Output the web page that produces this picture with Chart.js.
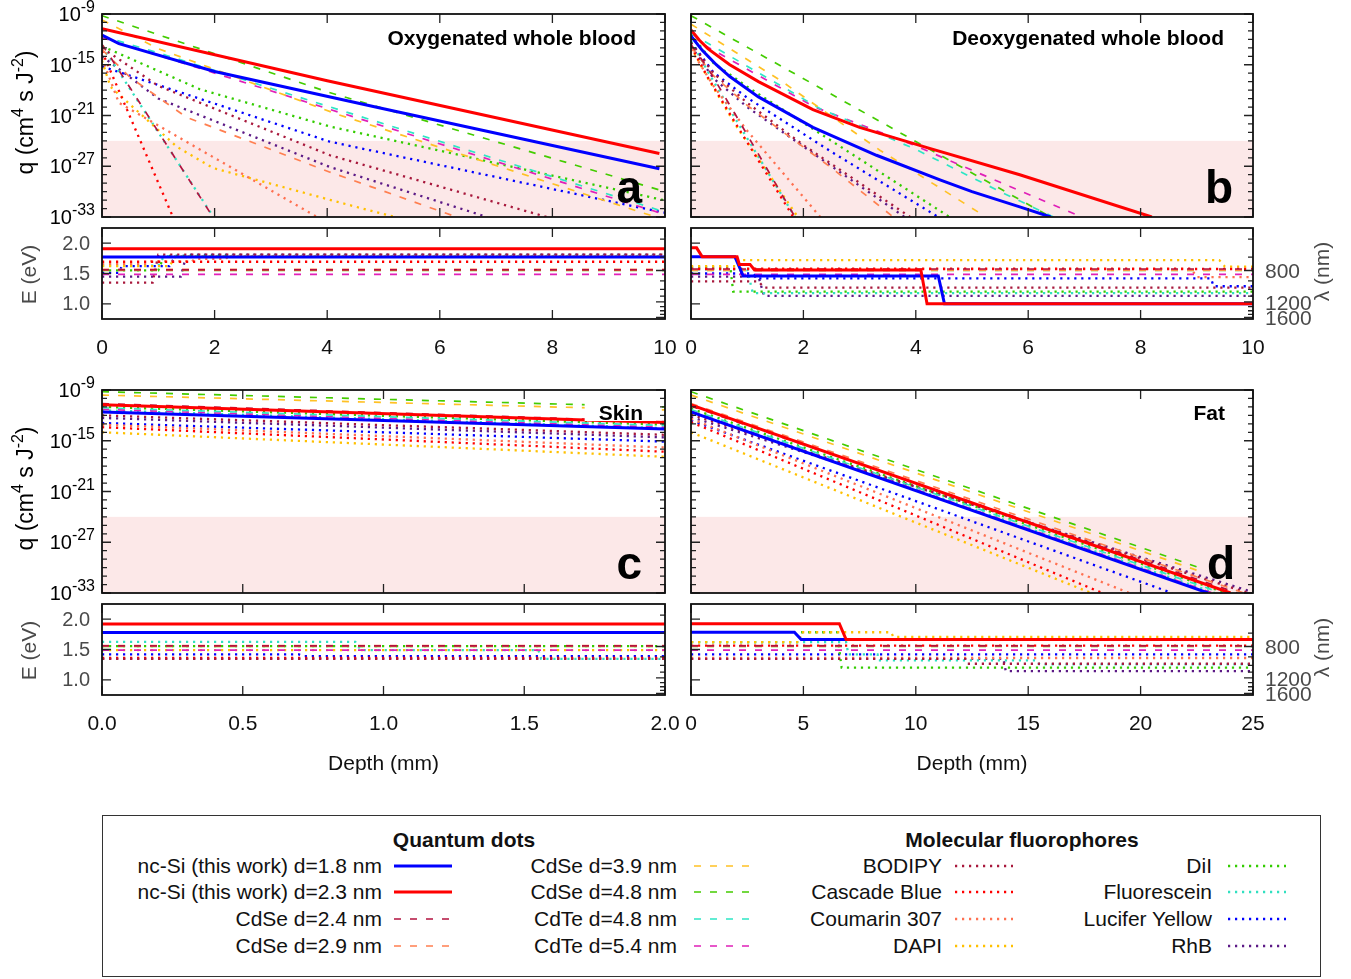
<!DOCTYPE html>
<html>
<head>
<meta charset="utf-8">
<title>Penetration depth of nc-Si, QD and dye emission</title>
<script src="https://cdn.jsdelivr.net/npm/chart.js@4.4.0/dist/chart.umd.min.js"></script>
<style>
    html, body { margin: 0; padding: 0; background: #fff; }
    body { position: relative; width: 1351px; height: 979px; overflow: hidden;
           font-family: "Liberation Sans", Arial, sans-serif; color: #111; }
    canvas { position: absolute; }
    #legendBox { position: absolute; left: 102px; top: 815px; width: 1219px; height: 162px;
                 border: 1.5px solid #333; box-sizing: border-box; }
    .lg-text { position: absolute; width: 400px; text-align: right; font-size: 21px; line-height: 24px; white-space: nowrap; }
    .lg-head { position: absolute; width: 400px; text-align: center; font-size: 21px; font-weight: bold; line-height: 24px; }
    .lg-line { position: absolute; }
</style>
</head>
<body>
<div id="legendBox"></div>

<script>
// Series names (legend order)
const seriesNames = [
    'nc-Si (this work) d=1.8 nm', 'nc-Si (this work) d=2.3 nm',
    'CdSe d=2.4 nm', 'CdSe d=2.9 nm', 'CdSe d=3.9 nm', 'CdSe d=4.8 nm',
    'CdTe d=4.8 nm', 'CdTe d=5.4 nm',
    'BODIPY', 'Cascade Blue', 'Coumarin 307', 'DAPI',
    'DiI', 'Fluorescein', 'Lucifer Yellow', 'RhB'
];

// q(depth) as [depth mm, log10 q], one list per series
const qOxygenated = [
    [[0, -11.5], [0.3, -12.5], [2, -15.8], [5, -20.2], [9.9, -27.3]],
    [[0, -10.75], [4, -16.9], [9.9, -25.5]],
    [[0, -12.6], [0.15, -14.1], [1.97, -33.0]],
    [[0, -13.2], [0.5, -16.5], [1.5, -21.2], [4.05, -27.7], [6.3, -33.0]],
    [[0, -9.7], [1, -13.1], [4.2, -20.9], [9.6, -32.5], [9.85, -33.0]],
    [[0, -9.2], [4, -18.2], [9.9, -29.8]],
    [[0, -11.6], [1.15, -13.9], [4.2, -20.3], [9.9, -32.2]],
    [[0, -11.8], [1.15, -14.2], [4.2, -20.6], [9.9, -32.5]],
    [[0, -13.0], [1, -17.5], [4.05, -25.7], [7.9, -33.0]],
    [[0, -13.4], [1.26, -33.0]],
    [[0, -14.2], [0.3, -19.5], [3.82, -33.0]],
    [[0, -14.5], [0.15, -17.6], [1.33, -24.7], [1.97, -27.2], [4.23, -31.3], [5.2, -33.0]],
    [[0, -12.8], [1.74, -17.9], [4.05, -22.3], [9.97, -31.0]],
    [[0, -12.9], [0.15, -14.3], [1.98, -33.0]],
    [[0, -15.2], [4.05, -24.1], [9.56, -31.9], [10, -32.5]],
    [[0, -14.0], [1, -19.0], [4.05, -27.1], [6.84, -33.0]]
];

const qDeoxygenated = [
    [[0, -11.6], [0.2, -13.3], [0.45, -15.0], [0.69, -16.4], [1.2, -18.8], [2.17, -22.4], [3.3, -25.7], [4.43, -28.6], [5.0, -30.0], [5.85, -31.8], [6.4, -33.0]],
    [[0, -10.9], [0.15, -12.1], [0.3, -13.1], [0.69, -15.0], [1.2, -17.0], [2.17, -20.3], [3.0, -22.4], [3.95, -24.3], [4.2, -24.8], [5.85, -28.0], [8.2, -33.0]],
    [[0, -12.6], [0.3, -15.4], [0.8, -21.0], [1.85, -33.0]],
    [[0, -12.9], [0.4, -16.3], [1.0, -19.8], [2.5, -27.2], [3.6, -33.0]],
    [[0, -10.2], [1.58, -16.8], [3.36, -25.1], [5.25, -33.0]],
    [[0, -9.2], [6.4, -33.0]],
    [[0, -11.3], [2.3, -20.2], [4.0, -25.0], [5.5, -30.0], [6.45, -33.0]],
    [[0, -11.8], [2.2, -20.0], [4.0, -24.6], [5.5, -28.9], [6.95, -33.0]],
    [[0, -12.4], [0.4, -16.0], [1.0, -19.5], [2.0, -24.5], [3.9, -33.0]],
    [[0, -12.8], [0.3, -16.5], [0.8, -22.0], [1.82, -33.0]],
    [[0, -13.2], [0.4, -17.5], [1.0, -22.8], [2.3, -33.0]],
    [[0, -12.9], [0.3, -16.6], [0.8, -22.2], [1.9, -33.0]],
    [[0, -11.4], [0.4, -14.8], [1.0, -17.6], [2.5, -24.0], [4.6, -33.0]],
    [[0, -12.2], [0.3, -15.8], [0.8, -21.5], [1.85, -33.0]],
    [[0, -12.3], [0.4, -15.9], [1.0, -18.9], [2.5, -25.3], [4.4, -33.0]],
    [[0, -12.8], [0.4, -16.6], [1.0, -20.0], [2.2, -25.6], [3.8, -33.0]]
];

const qSkin = [
    [[0, -11.6], [2, -13.6]],
    [[0, -10.75], [2, -12.85]],
    [[0, -10.6], [2, -12.75]],
    [[0, -10.7], [2, -12.85]],
    [[0, -9.6], [2, -11.35]],
    [[0, -9.2], [2, -11.0]],
    [[0, -11.1], [2, -13.2]],
    [[0, -11.3], [2, -13.4]],
    [[0, -12.0], [2, -14.3]],
    [[0, -13.4], [2, -16.3]],
    [[0, -13.1], [2, -15.8]],
    [[0, -14.0], [2, -16.9]],
    [[0, -11.0], [2, -13.1]],
    [[0, -11.4], [2, -13.5]],
    [[0, -12.9], [2, -15.1]],
    [[0, -12.3], [2, -14.6]]
];

const qFat = [
    [[0, -11.6], [23.0, -33.0]],
    [[0, -10.77], [24.0, -33.0]],
    [[0, -10.9], [24.3, -33.0]],
    [[0, -10.6], [24.6, -33.0]],
    [[0, -9.6], [22.6, -30.4]],
    [[0, -9.2], [22.6, -30.0]],
    [[0, -11.3], [23.6, -33.0]],
    [[0, -11.5], [23.2, -33.0]],
    [[0, -11.9], [24.8, -33.0]],
    [[0, -12.8], [18.3, -33.0]],
    [[0, -12.4], [19.5, -33.0]],
    [[0, -14.0], [17.8, -33.0]],
    [[0, -11.2], [23.8, -33.0]],
    [[0, -11.5], [23.3, -33.0]],
    [[0, -12.6], [21.4, -33.0]],
    [[0, -12.2], [25.0, -32.9]]
];

// Dominant emission energy E(depth) as [depth mm, eV]
const eOxygenated = [
    [[0, 1.77], [10, 1.77]],
    [[0, 1.91], [10, 1.91]],
    [[0, 1.56], [10, 1.56]],
    [[0, 1.57], [10, 1.57]],
    [[0, 1.55], [10, 1.55]],
    [[0, 1.555], [10, 1.555]],
    [[0, 1.55], [10, 1.55]],
    [[0, 1.486], [10, 1.486]],
    [[0, 1.35], [0.9, 1.35], [1.0, 1.81], [10, 1.81]],
    [[0, 1.694], [10, 1.694]],
    [[0, 1.66], [0.8, 1.66], [0.85, 1.70], [1.6, 1.70], [1.65, 1.74], [2.2, 1.74], [2.25, 1.79], [10, 1.79]],
    [[0, 1.62], [1.2, 1.62], [1.3, 1.78], [10, 1.78]],
    [[0, 1.55], [1.0, 1.55], [1.1, 1.79], [10, 1.79]],
    [[0, 1.63], [1.0, 1.63], [1.1, 1.78], [10, 1.78]],
    [[0, 1.51], [0.3, 1.51], [0.35, 1.62], [1.2, 1.62], [1.3, 1.79], [10, 1.79]],
    [[0, 1.45], [1.4, 1.45], [1.5, 1.81], [10, 1.81]]
];

const eDeoxygenated = [
    [[0, 1.776], [0.78, 1.776], [0.93, 1.459], [4.4, 1.459], [4.51, 1.0], [10, 1.0]],
    [[0, 1.923], [0.1, 1.923], [0.2, 1.776], [0.82, 1.776], [0.86, 1.65], [1.05, 1.65], [1.13, 1.557], [4.09, 1.557], [4.2, 1.0], [10, 1.0]],
    [[0, 1.574], [10, 1.574]],
    [[0, 1.56], [10, 1.56]],
    [[0, 1.55], [10, 1.55]],
    [[0, 1.557], [10, 1.557]],
    [[0, 1.55], [10, 1.55]],
    [[0, 1.486], [10, 1.486]],
    [[0, 1.37], [1.2, 1.37], [1.3, 1.268], [10, 1.268]],
    [[0, 1.574], [10, 1.574]],
    [[0, 1.58], [8.9, 1.58], [9.0, 1.44], [10, 1.44]],
    [[0, 1.62], [0.8, 1.62], [0.85, 1.721], [9.4, 1.721], [9.5, 1.612], [10, 1.612]],
    [[0, 1.60], [0.7, 1.60], [0.75, 1.202], [10, 1.202]],
    [[0, 1.57], [1.0, 1.57], [1.1, 1.175], [10, 1.175]],
    [[0, 1.50], [1.1, 1.50], [1.2, 1.421], [9.25, 1.421], [9.3, 1.29], [10, 1.29]],
    [[0, 1.45], [1.2, 1.45], [1.3, 1.131], [10, 1.131]]
];

const eSkin = [
    [[0, 1.779], [2, 1.779]],
    [[0, 1.921], [2, 1.921]],
    [[0, 1.56], [2, 1.56]],
    [[0, 1.565], [2, 1.565]],
    [[0, 1.55], [2, 1.55]],
    [[0, 1.555], [2, 1.555]],
    [[0, 1.55], [2, 1.55]],
    [[0, 1.49], [2, 1.49]],
    [[0, 1.347], [2, 1.347]],
    [[0, 1.36], [2, 1.36]],
    [[0, 1.355], [2, 1.355]],
    [[0, 1.49], [2, 1.49]],
    [[0, 1.555], [2, 1.555]],
    [[0, 1.626], [0.9, 1.626], [0.92, 1.49], [1.55, 1.49], [1.56, 1.347], [2, 1.347]],
    [[0, 1.418], [0.7, 1.418], [0.72, 1.39], [2, 1.39]],
    [[0, 1.347], [2, 1.347]]
];

const eFat = [
    [[0, 1.784], [4.6, 1.784], [4.9, 1.664], [25, 1.664]],
    [[0, 1.926], [6.6, 1.926], [6.9, 1.664], [25, 1.664]],
    [[0, 1.56], [25, 1.56]],
    [[0, 1.565], [25, 1.565]],
    [[0, 1.55], [25, 1.55]],
    [[0, 1.555], [25, 1.555]],
    [[0, 1.55], [25, 1.55]],
    [[0, 1.49], [25, 1.49]],
    [[0, 1.347], [12.2, 1.347], [12.3, 1.265], [25, 1.265]],
    [[0, 1.565], [25, 1.565]],
    [[0, 1.36], [25, 1.36]],
    [[0, 1.62], [4.8, 1.62], [4.9, 1.784], [8.9, 1.784], [9.0, 1.708], [25, 1.708]],
    [[0, 1.62], [4.8, 1.62], [4.85, 1.784], [6.5, 1.784], [6.7, 1.20], [25, 1.20]],
    [[0, 1.62], [6.9, 1.62], [7.0, 1.418], [8.3, 1.418], [8.35, 1.32], [15.4, 1.32], [15.5, 1.254], [25, 1.254]],
    [[0, 1.418], [25, 1.418]],
    [[0, 1.347], [13.9, 1.347], [14.0, 1.145], [25, 1.145]]
];

// Axis values
const qExponents = [-9, -15, -21, -27, -33];
const eTickValues = [1.0, 1.5, 2.0];
const lambdaTicks = [600, 700, 800, 900, 1000, 1100, 1200, 1300, 1400, 1500, 1600];
const lambdaLabels = [800, 1200, 1600];
const shadedBelow = 1e-24;
const HC = 1239.84; // eV*nm

// Line styles
const lineColors = [
    '#0000ff', '#ff0000',
    '#b3123f', '#ff7f50', '#ffc125', '#44cc00', '#2ee6c5', '#e020b8',
    '#a8183c', '#ff0000', '#ff7050', '#ffc000', '#33cc00', '#30e0c0', '#0000ff', '#5c1a86'
];
const lineKinds = ['solid', 'solid', 'dash', 'dash', 'dash', 'dash', 'dash', 'dash',
                   'dot', 'dot', 'dot', 'dot', 'dot', 'dot', 'dot', 'dot'];
const kindStyle = {
    solid: { width: 3, dash: [] },
    dash: { width: 1.7, dash: [7, 9] },
    dot: { width: 2.3, dash: [2.2, 4.8] }
};

const FONT = '"Liberation Sans", Arial, sans-serif';

// Text with superscripts: parts = [[text, isSup], ...]
function drawRich(ctx, parts, x, y, align, size, supSize) {
    const small = supSize || Math.round(size * 0.72);
    let w = 0;
    parts.forEach(p => {
        ctx.font = `${p[1] ? small : size}px ${FONT}`;
        w += ctx.measureText(p[0]).width;
    });
    let cx = align === 'right' ? x - w : align === 'center' ? x - w / 2 : x;
    ctx.textAlign = 'left';
    ctx.textBaseline = 'alphabetic';
    parts.forEach(p => {
        ctx.font = `${p[1] ? small : size}px ${FONT}`;
        ctx.fillText(p[0], cx, p[1] ? y - size * 0.45 : y);
        cx += ctx.measureText(p[0]).width;
    });
}

function drawRotated(ctx, x, y, fn) {
    ctx.save();
    ctx.translate(x, y);
    ctx.rotate(-Math.PI / 2);
    fn();
    ctx.restore();
}

// gnuplot-like frame: inward ticks on all sides, labels, panel captions
function makeFrame(p) {
    return {
        id: 'frame_' + p.id,
        beforeDatasetsDraw(chart) {
            if (p.kind !== 'q') return;
            const { ctx, chartArea: a } = chart;
            const top = chart.scales.y.getPixelForValue(shadedBelow);
            ctx.save();
            ctx.fillStyle = '#fce8e8';
            ctx.fillRect(a.left, top, a.right - a.left, a.bottom - top);
            ctx.restore();
        },
        afterDatasetsDraw(chart) {
            const { ctx, chartArea: a } = chart;
            const xs = chart.scales.x, ys = chart.scales.y;
            ctx.save();

            // Caption text (optionally on a white patch)
            if (p.title) {
                ctx.font = `bold 21px ${FONT}`;
                const tx = a.right - p.titleAt[0], ty = a.top + p.titleAt[1];
                if (p.titleBox) {
                    const w = ctx.measureText(p.title).width;
                    ctx.fillStyle = '#fff';
                    ctx.fillRect(tx - w - 14, ty - 13, w + 27, 20);
                }
                ctx.fillStyle = '#000';
                ctx.textAlign = 'right';
                ctx.textBaseline = 'middle';
                ctx.fillText(p.title, tx, ty);
            }
            if (p.letter) {
                ctx.font = `bold 46px ${FONT}`;
                ctx.fillStyle = '#000';
                ctx.textAlign = 'right';
                ctx.textBaseline = 'alphabetic';
                ctx.fillText(p.letter, a.right - p.letterAt[0], a.bottom - p.letterAt[1]);
            }

            // Ticks
            ctx.strokeStyle = '#222';
            ctx.lineWidth = 1.3;
            ctx.beginPath();
            const tick = (x0, y0, dx, dy) => { ctx.moveTo(x0, y0); ctx.lineTo(x0 + dx, y0 + dy); };
            p.xTicks.forEach(v => {
                const px = xs.getPixelForValue(v);
                tick(px, a.bottom, 0, -9);
                tick(px, a.top, 0, 9);
            });
            if (p.kind === 'q') {
                for (let e = -33; e <= -9; e++) {
                    const py = ys.getPixelForValue(Math.pow(10, e));
                    const len = qExponents.includes(e) ? 9 : 5;
                    tick(a.left, py, len, 0);
                    tick(a.right, py, -len, 0);
                }
            } else {
                eTickValues.forEach(v => tick(a.left, ys.getPixelForValue(v), 9, 0));
                lambdaTicks.forEach(l => {
                    const len = lambdaLabels.includes(l) ? 9 : 5;
                    tick(a.right, ys.getPixelForValue(HC / l), -len, 0);
                });
            }
            ctx.stroke();

            // Frame
            ctx.lineWidth = 1.8;
            ctx.strokeStyle = '#111';
            ctx.strokeRect(a.left, a.top, a.right - a.left, a.bottom - a.top);

            // Labels
            if (p.kind === 'q' && p.leftLabels) {
                ctx.fillStyle = '#000';
                qExponents.forEach(e => {
                    const py = ys.getPixelForValue(Math.pow(10, e));
                    drawRich(ctx, [['10', false], [String(e), true]], a.left - 7, py + 7, 'right', 20, 16);
                });
                drawRotated(ctx, a.left - 77, (a.top + a.bottom) / 2 - 3, () => {
                    drawRich(ctx, [['q (cm', false], ['4', true], [' s J', false], ['-2', true], [')', false]], 0, 8, 'center', 23, 16);
                });
            }
            if (p.kind === 'E') {
                ctx.font = `21px ${FONT}`;
                ctx.fillStyle = '#111';
                ctx.textAlign = 'center';
                ctx.textBaseline = 'middle';
                p.xTicks.forEach(v => ctx.fillText(v.toFixed(p.xDec), xs.getPixelForValue(v), a.bottom + 29));
                if (p.depthTitle) {
                    ctx.fillText('Depth (mm)', (a.left + a.right) / 2, a.bottom + 69);
                }
                ctx.fillStyle = '#4a4a4a';
                if (p.leftLabels) {
                    ctx.font = `20px ${FONT}`;
                    ctx.textAlign = 'right';
                    eTickValues.forEach(v => ctx.fillText(v.toFixed(1), a.left - 12, ys.getPixelForValue(v) + 1));
                    ctx.font = `21px ${FONT}`;
                    drawRotated(ctx, a.left - 72, (a.top + a.bottom) / 2 + 1, () => {
                        ctx.textAlign = 'center';
                        ctx.fillText('E (eV)', 0, 0);
                    });
                }
                if (p.rightLabels) {
                    ctx.font = `21px ${FONT}`;
                    ctx.textAlign = 'left';
                    lambdaLabels.forEach(l => ctx.fillText(String(l), a.right + 12, ys.getPixelForValue(HC / l) + 2));
                    drawRotated(ctx, a.right + 70, (a.top + a.bottom) / 2 - 2, () => {
                        ctx.textAlign = 'center';
                        ctx.fillText('\u03bb (nm)', 0, 0);
                    });
                }
            }
            ctx.restore();
        }
    };
}

// Panel layout: canvas box [x, y, w, h] and plot area [left, top, right, bottom] in page pixels
const panels = [
    { id: 'qa', kind: 'q', rows: qOxygenated, xmax: 10, xTicks: [0, 2, 4, 6, 8, 10],
      box: [0, 0, 680, 232], area: [102, 14, 665, 217], leftLabels: true,
      title: 'Oxygenated whole blood', titleAt: [29, 25], letter: 'a', letterAt: [23, 14] },
    { id: 'ea', kind: 'E', rows: eOxygenated, xmax: 10, xTicks: [0, 2, 4, 6, 8, 10], xDec: 0,
      box: [0, 222, 680, 142], area: [102, 228, 665, 319], leftLabels: true },
    { id: 'qb', kind: 'q', rows: qDeoxygenated, xmax: 10, xTicks: [0, 2, 4, 6, 8, 10],
      box: [680, 0, 671, 232], area: [691, 14, 1253, 217],
      title: 'Deoxygenated whole blood', titleAt: [29, 25], letter: 'b', letterAt: [20, 14] },
    { id: 'eb', kind: 'E', rows: eDeoxygenated, xmax: 10, xTicks: [0, 2, 4, 6, 8, 10], xDec: 0,
      box: [680, 222, 671, 142], area: [691, 228, 1253, 319], rightLabels: true },
    { id: 'qc', kind: 'q', rows: qSkin, xmax: 2, xTicks: [0, 0.5, 1, 1.5, 2],
      box: [0, 372, 680, 232], area: [102, 390, 665, 593], leftLabels: true,
      title: 'Skin', titleAt: [22, 24], titleBox: true, letter: 'c', letterAt: [23, 14] },
    { id: 'ec', kind: 'E', rows: eSkin, xmax: 2, xTicks: [0, 0.5, 1, 1.5, 2], xDec: 1,
      box: [0, 596, 680, 190], area: [102, 604, 665, 695], leftLabels: true, depthTitle: true },
    { id: 'qd', kind: 'q', rows: qFat, xmax: 25, xTicks: [0, 5, 10, 15, 20, 25],
      box: [680, 372, 671, 232], area: [691, 390, 1253, 593],
      title: 'Fat', titleAt: [28, 24], letter: 'd', letterAt: [18, 14] },
    { id: 'ed', kind: 'E', rows: eFat, xmax: 25, xTicks: [0, 5, 10, 15, 20, 25], xDec: 0,
      box: [680, 596, 671, 190], area: [691, 604, 1253, 695], rightLabels: true, depthTitle: true }
];

function buildDatasets(rows, isQ) {
    return rows.map((pts, i) => {
        const st = kindStyle[lineKinds[i]];
        return {
            label: seriesNames[i],
            data: pts.map(([d, v]) => ({ x: d, y: isQ ? Math.pow(10, v) : v })),
            showLine: true,
            pointRadius: 0,
            borderColor: lineColors[i],
            borderWidth: st.width,
            borderDash: st.dash,
            fill: false,
            tension: 0,
            clip: 0,
            // nc-Si curves on top, red above blue
            order: i === 1 ? 0 : i === 0 ? 1 : 2 + i
        };
    });
}

function createPanel(p) {
    const canvas = document.createElement('canvas');
    const [bx, by, bw, bh] = p.box;
    const [l, t, r, b] = p.area;
    canvas.width = bw;
    canvas.height = bh;
    canvas.style.left = bx + 'px';
    canvas.style.top = by + 'px';
    canvas.style.width = bw + 'px';
    canvas.style.height = bh + 'px';
    document.body.appendChild(canvas);

    const isQ = p.kind === 'q';
    return new Chart(canvas.getContext('2d'), {
        type: 'scatter',
        data: { datasets: buildDatasets(p.rows, isQ) },
        options: {
            responsive: false,
            animation: false,
            events: [],
            devicePixelRatio: 1,
            layout: { padding: { left: l - bx, top: t - by, right: bx + bw - r, bottom: by + bh - b } },
            plugins: { legend: { display: false }, tooltip: { enabled: false } },
            scales: {
                x: { type: 'linear', min: 0, max: p.xmax, display: false },
                y: isQ
                    ? { type: 'logarithmic', min: 1e-33, max: 1e-9, display: false }
                    : { type: 'linear', min: 0.75, max: 2.25, display: false }
            }
        },
        plugins: [makeFrame(p)]
    });
}

// Legend: four columns of four entries
function buildLegend() {
    const colText = [382, 677, 942, 1212];
    const colSample = [394, 694, 955, 1228];
    const rowY = [866, 892, 919, 945.5];
    const heads = [['Quantum dots', 464], ['Molecular fluorophores', 1022]];

    heads.forEach(([txt, cx]) => {
        const h = document.createElement('div');
        h.className = 'lg-head';
        h.textContent = txt;
        h.style.left = (cx - 200) + 'px';
        h.style.top = (840 - 12) + 'px';
        document.body.appendChild(h);
    });

    seriesNames.forEach((name, i) => {
        const col = Math.floor(i / 4), row = i % 4;
        const t = document.createElement('div');
        t.className = 'lg-text';
        t.textContent = name;
        t.style.left = (colText[col] - 400) + 'px';
        t.style.top = (rowY[row] - 12) + 'px';
        document.body.appendChild(t);

        const st = kindStyle[lineKinds[i]];
        const svgNS = 'http://www.w3.org/2000/svg';
        const svg = document.createElementNS(svgNS, 'svg');
        svg.setAttribute('width', '58');
        svg.setAttribute('height', '8');
        svg.setAttribute('class', 'lg-line');
        svg.style.left = colSample[col] + 'px';
        svg.style.top = (rowY[row] - 4) + 'px';
        const line = document.createElementNS(svgNS, 'line');
        line.setAttribute('x1', '0');
        line.setAttribute('x2', '58');
        line.setAttribute('y1', '4');
        line.setAttribute('y2', '4');
        line.setAttribute('stroke', lineColors[i]);
        line.setAttribute('stroke-width', String(st.width));
        if (st.dash.length) line.setAttribute('stroke-dasharray', st.dash.join(' '));
        svg.appendChild(line);
        document.body.appendChild(svg);
    });
}

panels.forEach(createPanel);
buildLegend();
</script>
</body>
</html>
